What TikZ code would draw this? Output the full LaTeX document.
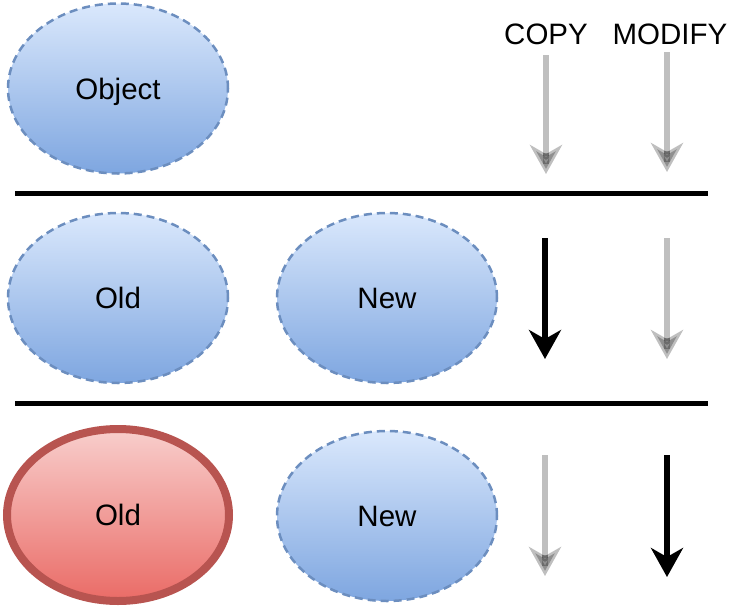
\documentclass[tikz,border=0pt]{standalone}
\usepackage{fontspec}
\setmainfont{Liberation Sans}
\usetikzlibrary{arrows.meta,shapes.geometric,calc}
\definecolor{bluetop}{HTML}{DAE8FC}
\definecolor{bluebot}{HTML}{7EA6E0}
\definecolor{bluestroke}{HTML}{6C8EBF}
\definecolor{redtop}{HTML}{F8CECC}
\definecolor{redbot}{HTML}{EA6B66}
\definecolor{redstroke}{HTML}{B85450}
\tikzset{
  txt/.style={font=\fontsize{29.5}{34}\selectfont, text height=21pt, text depth=0pt},
  blueell/.style={ellipse, minimum width=220pt, minimum height=170pt, inner sep=0pt,
    top color=bluetop, bottom color=bluebot, draw=bluestroke, line width=2.5pt,
    dash pattern=on 8pt off 5pt, txt},
  redell/.style={ellipse, minimum width=222pt, minimum height=172pt, inner sep=0pt,
    top color=redtop, bottom color=redbot, draw=redstroke, line width=8pt, txt},
  sep/.style={line width=5pt},
  lbl/.style={txt, inner sep=0pt},
  tip/.style={-{Stealth[length=29pt, width=32pt, inset=9pt]}},
  blackarr/.style={line width=5.5pt, tip},
  grayarr/.style={line width=5.5pt, draw opacity=0.25, fill opacity=0.25, tip},
  grayin/.style={line width=5.5pt, draw opacity=0.25},
}
\begin{document}
\begin{tikzpicture}[x=1pt,y=-1pt]
\useasboundingbox (0,0) rectangle (736,606);
% row 1
\node[blueell] (obj) at (118,88.5) {Object};
\node[lbl] (copy) at (546,34) {COPY};
\node[lbl] (mod) at (670,34) {MODIFY};
\coordinate (c1s) at (546,55);
\coordinate (c1e) at (546,174);
\coordinate (m1s) at (667,52);
\coordinate (m1e) at (667,172);
\draw[grayarr] (c1s) -- (c1e);
\draw[grayin] ($(c1e)+(0,-21)$) -- ($(c1e)+(0,-10)$);
\draw[grayarr] (m1s) -- (m1e);
\draw[grayin] ($(m1e)+(0,-21)$) -- ($(m1e)+(0,-10)$);
\coordinate (l1a) at (15,193.5);
\coordinate (l1b) at (708,193.5);
\draw[sep] (l1a) -- (l1b);
% row 2
\node[blueell] (old2) at (118,298) {Old};
\node[blueell] (new2) at (387,298) {New};
\coordinate (c2s) at (545,238);
\coordinate (c2e) at (545,359);
\coordinate (m2s) at (667,238);
\coordinate (m2e) at (667,359);
\draw[blackarr] (c2s) -- (c2e);
\draw[grayarr] (m2s) -- (m2e);
\draw[grayin] ($(m2e)+(0,-21)$) -- ($(m2e)+(0,-10)$);
\coordinate (l2a) at (15,403.5);
\coordinate (l2b) at (708,403.5);
\draw[sep] (l2a) -- (l2b);
% row 3
\node[redell] (old3) at (118,515) {Old};
\node[blueell] (new3) at (387,516) {New};
\coordinate (c3s) at (545,455);
\coordinate (c3e) at (545,576);
\coordinate (m3s) at (667,455);
\coordinate (m3e) at (667,577);
\draw[grayarr] (c3s) -- (c3e);
\draw[grayin] ($(c3e)+(0,-21)$) -- ($(c3e)+(0,-10)$);
\draw[blackarr] (m3s) -- (m3e);
\end{tikzpicture}
\end{document}
